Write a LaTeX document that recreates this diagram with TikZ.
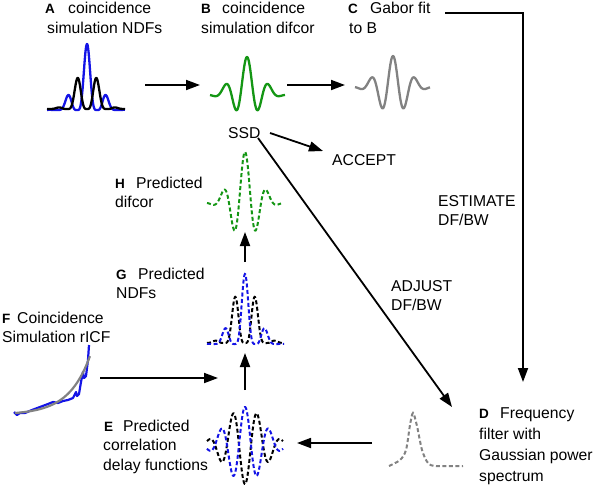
\documentclass[tikz,border=0pt]{standalone}
\usepackage{fontspec}
\setmainfont{Liberation Sans}
\usetikzlibrary{arrows.meta}
\begin{document}
\begin{tikzpicture}[x=1pt,y=-1pt,
  txt/.style={anchor=base west,inner sep=0pt,font=\fontsize{15.7}{20}\selectfont},
  lett/.style={anchor=base west,inner sep=0pt,font=\fontsize{13.5}{14}\selectfont\bfseries},
  conn/.style={line width=1.8pt,-{Triangle[length=14pt,width=10pt]}},
  solidc/.style={line width=2.3pt,line join=round},
  dashc/.style={line width=2pt,dash pattern=on 4pt off 2.5pt},
  blu/.style={draw={rgb,255:red,20;green,20;blue,230}},
  blk/.style={draw=black},
  grn/.style={draw={rgb,255:red,20;green,150;blue,20}},
  gry/.style={draw={rgb,255:red,130;green,130;blue,130}}
]
\useasboundingbox (0,0) rectangle (596,488);

% ---------- labels ----------
\node[lett] (Al) at (45,13.5) {A};
\node[txt] (At1) at (68,13.5) {coincidence};
\node[txt] (At2) at (47,33) {simulation NDFs};
\node[lett] (Bl) at (201,13.5) {B};
\node[txt] (Bt1) at (222,13.5) {coincidence};
\node[txt] (Bt2) at (201,33) {simulation difcor};
\node[lett] (Cl) at (348,13.5) {C};
\node[txt] (Ct1) at (370,13.5) {Gabor fit};
\node[txt] (Ct2) at (349,33) {to B};
\node[txt] (SSD) at (228,138.5) {SSD};
\node[txt] (ACC) at (332,165) {ACCEPT};
\node[lett] (Hl) at (115,188) {H};
\node[txt] (Ht1) at (136,188) {Predicted};
\node[txt] (Ht2) at (115,207) {difcor};
\node[lett] (Gl) at (116,279.5) {G};
\node[txt] (Gt1) at (138,279.5) {Predicted};
\node[txt] (Gt2) at (116,298.5) {NDFs};
\node[lett] (Fl) at (2,323) {F};
\node[txt] (Ft1) at (17,323) {Coincidence};
\node[txt] (Ft2) at (2,342) {Simulation rICF};
\node[lett] (El) at (104,431) {E};
\node[txt] (Et1) at (123,431) {Predicted};
\node[txt] (Et2) at (103,450.5) {correlation};
\node[txt] (Et3) at (103,470) {delay functions};
\node[lett] (Dl) at (479,418.5) {D};
\node[txt] (Dt1) at (500,418.5) {Frequency};
\node[txt] (Dt2) at (479,439.5) {filter with};
\node[txt] (Dt3) at (479,460) {Gaussian power};
\node[txt] (Dt4) at (479,481) {spectrum};
\node[txt] (EST1) at (438,206.5) {ESTIMATE};
\node[txt] (EST2) at (438,225.5) {DF/BW};
\node[txt] (ADJ1) at (391,291) {ADJUST};
\node[txt] (ADJ2) at (391,310) {DF/BW};

% ---------- plots ----------
% A
\draw[solidc,blu] plot[domain=-40:38,samples=200]
  ({87+\x},{110-66*exp(-\x*\x/250)*((1+cos(360*\x/20))/2)*((1+cos(360*\x/20))/2)});
\draw[solidc,blk] plot[domain=-40:38,samples=200]
  ({87+\x},{109-45*exp(-\x*\x/250)*((1-cos(360*\x/20))/2)*((1-cos(360*\x/20))/2)});
% B
\draw[solidc,grn] plot[domain=-37:38,samples=150]
  ({247+\x},{95-exp(-\x*\x/362)*(29.5*cos(360*\x/22)+8.5)});
% C
\draw[solidc,gry] plot[domain=-38:37,samples=150]
  ({393+\x},{87-exp(-\x*\x/390)*(29.8*cos(360*\x/22)+1.2)});
% H
\draw[dashc,grn] plot[domain=-38:36,samples=150]
  ({245+\x},{203-exp(-\x*\x/334)*(44.9*cos(360*\x/22)+6.1)});
% G
\draw[dashc,blk] plot[domain=-38:39,samples=200]
  ({245+\x},{343-67*exp(-\x*\x/274)*((1-cos(360*\x/21))/2)*((1-cos(360*\x/21))/2)});
\draw[dashc,blu] plot[domain=-38:39,samples=200]
  ({245+\x},{344-70*exp(-\x*\x/274)*((1+cos(360*\x/21))/2)*((1+cos(360*\x/21))/2)});
% E
\draw[dashc,blk] plot[domain=-38:38,samples=200]
  ({245+\x},{445+39*exp(-\x*\x/662)*cos(360*\x/24)});
\draw[dashc,blu] plot[domain=-38:38,samples=200]
  ({245+\x},{445-38*exp(-\x*\x/662)*cos(360*\x/24)});
% F
\draw[solidc,blu,line width=2.2pt] (14,412) -- (17,415) -- (20,413) -- (25,413) -- (32,410) -- (40,407)
  -- (48,404) -- (53,402) -- (58,403) -- (63,401) -- (68,400) -- (73,398) -- (76,392)
  -- (77,396) -- (79,394) -- (81,382) -- (83,372) -- (84,378) -- (86,376) -- (88,360) -- (89,345);
\draw[solidc,gry,line width=2.2pt] plot[domain=0:1,samples=60]
  ({15+75*\x},{413-57*(exp(3.5*\x)-1)/(exp(3.5)-1)});
% D
\draw[dashc,gry] plot[smooth,tension=0.5] coordinates
  {(389,466) (400,460) (406,450) (410,425) (413,413) (417,426) (422,450) (428,463) (436,466) (463,466)};

% ---------- connectors ----------
\coordinate (Aout) at (145,85);
\coordinate (Bin) at (200,85);
\coordinate (Bout) at (287,85);
\coordinate (Cin) at (345,85);
\coordinate (Cout) at (445,13);
\coordinate (Ccorner) at (523,13);
\coordinate (Din) at (523,382);
\coordinate (SSDa) at (270,133);
\coordinate (ACCin) at (323,151);
\coordinate (SSDb) at (258,138);
\coordinate (Dadj) at (452,407);
\coordinate (Gout) at (245,262);
\coordinate (Hin) at (245,232);
\coordinate (Eout) at (245,390);
\coordinate (Gin) at (245,353);
\coordinate (Fout) at (100,378);
\coordinate (Gleft) at (218,378);
\coordinate (Dout) at (372,443);
\coordinate (Ein) at (297,443);

\draw[conn] (Aout) -- (Bin);
\draw[conn] (Bout) -- (Cin);
\draw[conn,line join=miter] (Cout) -- (Ccorner) -- (Din);
\draw[conn] (SSDa) -- (ACCin);
\draw[conn] (SSDb) -- (Dadj);
\draw[conn] (Gout) -- (Hin);
\draw[conn] (Eout) -- (Gin);
\draw[conn] (Fout) -- (Gleft);
\draw[conn] (Dout) -- (Ein);
\end{tikzpicture}
\end{document}
